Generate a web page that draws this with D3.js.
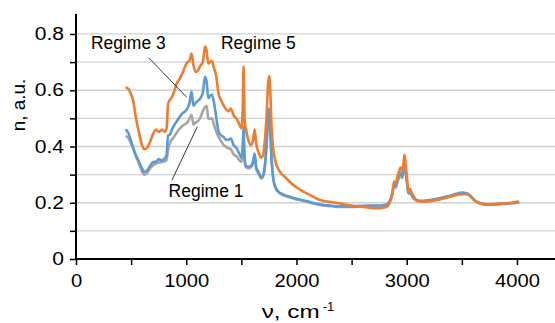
<!DOCTYPE html>
<html><head><meta charset="utf-8">
<script src="https://cdn.jsdelivr.net/npm/d3@7/dist/d3.min.js"></script>
<style>body{margin:0;background:#fff}svg{display:block}text{font-family:"Liberation Sans",Arial,sans-serif}</style>
</head><body>
<svg id="c" width="555" height="323"></svg>
<script>
const wavenumber = [450,475,500,520,540,565,595,620,645,670,700,725,750,780,805,822,835,850,870,890,915,940,965,990,1010,1030,1048,1065,1085,1105,1125,1150,1170,1185,1200,1215,1232,1250,1270,1292,1315,1340,1365,1385,1405,1430,1455,1480,1500,1512,1520,1530,1545,1565,1585,1605,1620,1635,1655,1680,1700,1715,1730,1742,1752,1762,1775,1790,1810,1835,1860,1900,1950,2000,2050,2100,2150,2200,2250,2300,2350,2400,2450,2500,2550,2600,2650,2700,2750,2800,2830,2850,2870,2885,2900,2915,2930,2945,2960,2970,2980,2990,3000,3015,3030,3045,3060,3080,3100,3150,3200,3250,3300,3350,3400,3450,3500,3550,3580,3610,3640,3670,3700,3750,3800,3850,3900,3950,4000,4020];

const regime5 = [0.61,0.605,0.585,0.56,0.51,0.46,0.41,0.39,0.395,0.415,0.445,0.46,0.452,0.46,0.452,0.465,0.55,0.565,0.575,0.595,0.625,0.64,0.66,0.685,0.70,0.705,0.73,0.69,0.665,0.67,0.685,0.70,0.755,0.74,0.695,0.70,0.705,0.68,0.655,0.59,0.565,0.545,0.53,0.525,0.535,0.51,0.50,0.48,0.465,0.53,0.685,0.49,0.455,0.42,0.405,0.42,0.46,0.41,0.38,0.36,0.375,0.43,0.52,0.62,0.65,0.60,0.46,0.39,0.345,0.32,0.305,0.29,0.27,0.255,0.242,0.232,0.222,0.212,0.206,0.203,0.20,0.197,0.193,0.19,0.188,0.186,0.183,0.181,0.181,0.183,0.19,0.205,0.235,0.275,0.27,0.29,0.31,0.325,0.31,0.34,0.37,0.335,0.30,0.24,0.25,0.235,0.225,0.212,0.206,0.204,0.205,0.208,0.212,0.217,0.222,0.228,0.23,0.23,0.222,0.21,0.202,0.197,0.195,0.194,0.195,0.197,0.198,0.2,0.203,0.204];

const regime3 = [0.46,0.448,0.42,0.395,0.372,0.352,0.325,0.31,0.315,0.33,0.345,0.346,0.355,0.35,0.358,0.37,0.44,0.442,0.46,0.475,0.49,0.505,0.518,0.525,0.535,0.555,0.595,0.545,0.555,0.562,0.57,0.59,0.648,0.63,0.572,0.578,0.585,0.56,0.51,0.455,0.44,0.433,0.423,0.425,0.428,0.405,0.395,0.375,0.36,0.40,0.47,0.355,0.33,0.328,0.33,0.345,0.375,0.325,0.31,0.29,0.30,0.34,0.42,0.51,0.535,0.47,0.35,0.285,0.255,0.24,0.233,0.226,0.22,0.214,0.21,0.205,0.199,0.195,0.192,0.19,0.188,0.187,0.187,0.187,0.188,0.189,0.19,0.19,0.19,0.192,0.198,0.21,0.235,0.265,0.26,0.28,0.295,0.305,0.295,0.32,0.34,0.315,0.285,0.235,0.24,0.228,0.22,0.212,0.208,0.207,0.209,0.212,0.216,0.221,0.226,0.232,0.236,0.233,0.224,0.212,0.203,0.198,0.195,0.194,0.195,0.196,0.197,0.199,0.201,0.202];

const regime1 = [0.438,0.43,0.41,0.39,0.37,0.345,0.315,0.30,0.305,0.322,0.333,0.34,0.343,0.345,0.347,0.352,0.39,0.41,0.425,0.435,0.45,0.463,0.473,0.48,0.485,0.50,0.513,0.478,0.485,0.49,0.50,0.525,0.54,0.545,0.50,0.498,0.50,0.48,0.455,0.435,0.42,0.405,0.398,0.393,0.39,0.372,0.365,0.352,0.345,0.38,0.43,0.345,0.325,0.322,0.325,0.34,0.368,0.32,0.305,0.286,0.296,0.335,0.41,0.49,0.515,0.455,0.345,0.282,0.252,0.238,0.231,0.224,0.218,0.212,0.208,0.203,0.197,0.193,0.19,0.188,0.186,0.185,0.185,0.185,0.186,0.187,0.188,0.188,0.188,0.19,0.196,0.207,0.23,0.258,0.253,0.272,0.287,0.297,0.288,0.31,0.33,0.307,0.278,0.232,0.236,0.225,0.217,0.21,0.206,0.205,0.207,0.21,0.214,0.219,0.224,0.23,0.234,0.231,0.222,0.21,0.201,0.196,0.194,0.193,0.194,0.195,0.196,0.198,0.2,0.201];

const xTicks = [0,1000,2000,3000,4000];
const xMinorTicks = [500,1500,2500,3500];
const yTicks = [0,0.2,0.4,0.6,0.8];
const yGrid = [0.1,0.2,0.3,0.4,0.5,0.6,0.7,0.8];

const seriesNames = ["Regime 1","Regime 3","Regime 5"];
const seriesColors = ["#a5a5a5","#5b9bd5","#ed7d31"];
const seriesValues = [regime1, regime3, regime5];

const labels = [
  {name:"Regime 3", tx:135, ty:0.745, x1:660, y1:0.715, x2:1005, y2:0.575},
  {name:"Regime 5", tx:1315, ty:0.745},
  {name:"Regime 1", tx:840, ty:0.22, x1:870, y1:0.28, x2:1100, y2:0.47}
];

const svg = d3.select("#c");
const x = d3.scaleLinear().domain([0,4345]).range([76,555]);
const y = d3.scaleLinear().domain([0,0.871]).range([259,14]);

// horizontal stretch helper (reference text is wider than Arial)
function stretch(sel, k){
  sel.each(function(){
    const w = this.getComputedTextLength();
    if (w>0) d3.select(this).attr("textLength", w*k).attr("lengthAdjust","spacingAndGlyphs");
  });
}

svg.append("g").selectAll("line").data(yGrid).join("line")
  .attr("x1",x(0)).attr("x2",x(4345)).attr("y1",d=>y(d)).attr("y2",d=>y(d))
  .attr("stroke","#d0d0d0").attr("stroke-width",1.3);

const line = d3.line().x((d,i)=>x(wavenumber[i])).y(d=>y(d)).curve(d3.curveMonotoneX);
seriesValues.forEach((vals,k)=>{
  svg.append("path").attr("d",line(vals)).attr("fill","none")
    .attr("stroke",seriesColors[k]).attr("stroke-width",2.6).attr("stroke-linejoin","round");
});

const yAxis = d3.axisLeft(y).tickValues(yGrid.concat([0])).tickSize(6)
  .tickFormat(d=> yTicks.some(t=>Math.abs(t-d)<1e-9) ? (d===0?"0":d3.format(".1f")(d)) : "");
const gy = svg.append("g").attr("transform",`translate(${x(0)},0)`).call(yAxis);
gy.select(".domain").remove();
gy.selectAll(".tick line").attr("stroke","#000").attr("stroke-width",1.5);
gy.selectAll(".tick text").attr("font-size",18).attr("fill","#000").attr("x",-12).call(stretch,1.17);
svg.append("line").attr("x1",x(0)).attr("x2",x(0)).attr("y1",y(0)).attr("y2",y(0.871))
  .attr("stroke","#000").attr("stroke-width",2);

const xAxis = d3.axisBottom(x).tickValues(xTicks.concat(xMinorTicks)).tickSize(6)
  .tickFormat(d=> xTicks.includes(d) ? String(d) : "");
const gx = svg.append("g").attr("transform",`translate(0,${y(0)})`).call(xAxis);
gx.select(".domain").remove();
gx.selectAll(".tick line").attr("stroke","#000").attr("stroke-width",1.5);
gx.selectAll(".tick text").attr("font-size",18).attr("fill","#000").attr("dy","1.05em").call(stretch,1.12);
svg.append("line").attr("x1",x(0)-1).attr("x2",x(4345)).attr("y1",y(0)).attr("y2",y(0))
  .attr("stroke","#000").attr("stroke-width",2);

const xt = svg.append("text").attr("x",298).attr("y",318).attr("text-anchor","middle").attr("font-size",18);
xt.append("tspan").text("ν, cm").attr("textLength",58).attr("lengthAdjust","spacingAndGlyphs");
xt.append("tspan").attr("dy",-7).attr("dx",3).attr("font-size",13).text("-1");
svg.append("text").attr("transform","translate(25,105) rotate(-90)").attr("text-anchor","middle")
  .attr("font-size",18).text("n, a.u.").call(stretch,1.05);

labels.forEach(l=>{
  if (l.x1!==undefined) {
    svg.append("line").attr("x1",x(l.x1)).attr("y1",y(l.y1)).attr("x2",x(l.x2)).attr("y2",y(l.y2))
      .attr("stroke","#222").attr("stroke-width",0.9);
  }
  svg.append("text").attr("x",x(l.tx)).attr("y",y(l.ty)).attr("font-size",17.5).attr("fill","#000").text(l.name);
});
</script>
</body></html>
